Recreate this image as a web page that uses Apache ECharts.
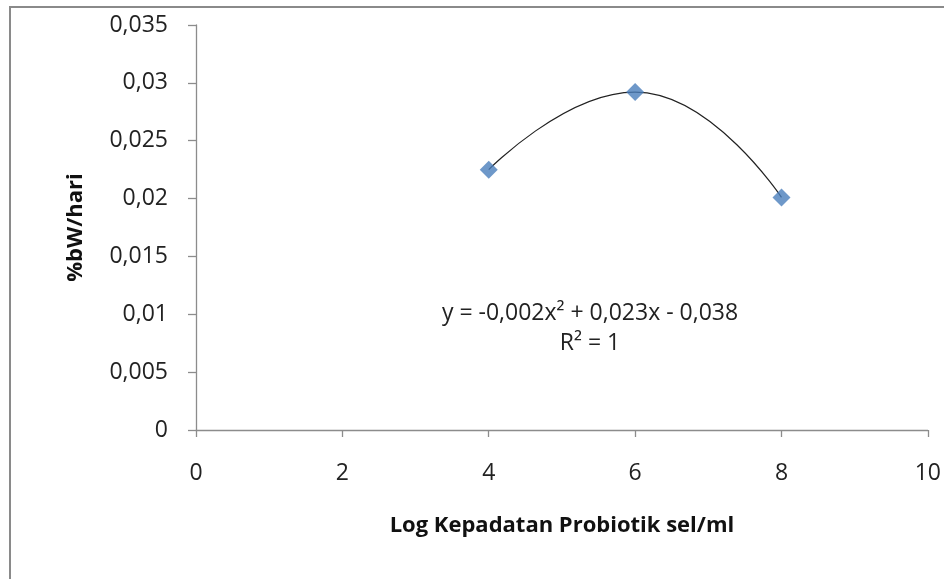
<!DOCTYPE html>
<html>
<head>
<meta charset="utf-8">
<script src="https://cdn.jsdelivr.net/npm/echarts@6/dist/echarts.min.js"></script>
<style>
  html, body { margin: 0; padding: 0; background: #fff; }
  #main { width: 944px; height: 579px; }
</style>
</head>
<body>
<div id="main"></div>
<script>
// data
var xValues = [4, 6, 8];
var yValues = [0.0225, 0.0292, 0.0201];
var xTicks = [0, 2, 4, 6, 8, 10];
var yTicks = [0, 0.005, 0.01, 0.015, 0.02, 0.025, 0.03, 0.035];
var trendText = ['y = -0,002x\u00b2 + 0,023x - 0,038', 'R\u00b2 = 1'];

var points = xValues.map(function (x, i) { return [x, yValues[i]]; });

var chart = echarts.init(document.getElementById('main'));

function comma(v) {
    return String(+v.toFixed(3)).replace('.', ',');
}

var axisGray = '#8c8c8c';
var font = 'Open Sans';

var option = {
    backgroundColor: '#fff',
    animation: false,
    grid: { left: 196, right: 15, top: 25, bottom: 149 },
    xAxis: {
        type: 'value',
        min: xTicks[0],
        max: xTicks[xTicks.length - 1],
        interval: 2,
        name: 'Log Kepadatan Probiotik sel/ml',
        nameLocation: 'middle',
        nameGap: 85,
        nameTextStyle: { fontFamily: font, fontWeight: 'bold', fontSize: 22, color: '#111' },
        axisLine: { onZero: false, lineStyle: { color: axisGray, width: 1.3 } },
        axisTick: { show: true, length: 7, lineStyle: { color: axisGray, width: 1.3 } },
        axisLabel: { margin: 32, fontFamily: font, fontSize: 23, color: '#222', formatter: comma },
        splitLine: { show: false }
    },
    yAxis: {
        type: 'value',
        min: yTicks[0],
        max: yTicks[yTicks.length - 1],
        interval: 0.005,
        name: '%bW/hari',
        nameLocation: 'middle',
        nameRotate: 90,
        nameGap: 109,
        nameTextStyle: { fontFamily: font, fontWeight: 'bold', fontSize: 22, color: '#111' },
        axisLine: { show: true, lineStyle: { color: axisGray, width: 1.3 } },
        axisTick: { show: true, length: 8, lineStyle: { color: axisGray, width: 1.3 } },
        axisLabel: { margin: 28, fontFamily: font, fontSize: 23, color: '#222', formatter: comma },
        splitLine: { show: false }
    },
    series: [
        {
            // trendline drawn through the measured points
            type: 'line',
            data: points,
            smooth: true,
            showSymbol: false,
            lineStyle: { color: '#222', width: 1.2 },
            z: 2
        },
        {
            type: 'scatter',
            data: points,
            symbol: 'diamond',
            symbolSize: 18,
            itemStyle: { color: '#4a7ebb' },
            z: 3
        }
    ],
    graphic: [
        {
            type: 'rect',
            shape: { x: 10, y: 7, width: 1200, height: 800 },
            style: { fill: 'none', stroke: '#8a8a8a', lineWidth: 2 },
            silent: true
        },
        {
            type: 'text',
            x: 590,
            y: 313,
            style: {
                text: trendText[0],
                fontFamily: font,
                fontSize: 23,
                fill: '#222',
                align: 'center',
                verticalAlign: 'middle'
            }
        },
        {
            type: 'text',
            x: 590,
            y: 343,
            style: {
                text: trendText[1],
                fontFamily: font,
                fontSize: 23,
                fill: '#222',
                align: 'center',
                verticalAlign: 'middle'
            }
        }
    ]
};

chart.setOption(option);
</script>
</body>
</html>
